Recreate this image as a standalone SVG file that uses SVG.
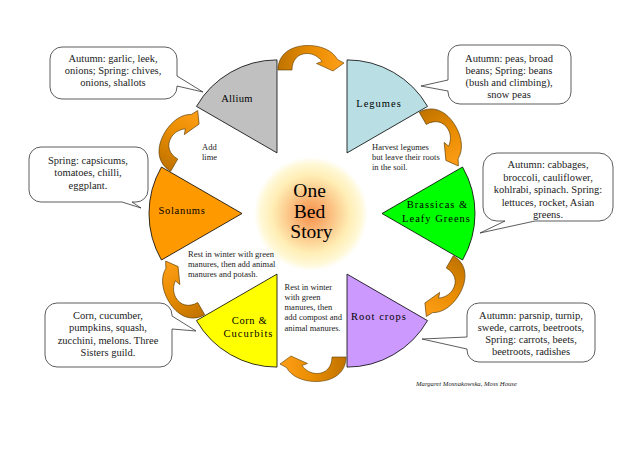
<svg xmlns="http://www.w3.org/2000/svg" xmlns:xlink="http://www.w3.org/1999/xlink" width="640" height="452" viewBox="0 0 640 452">
<defs>
<style>
.sec{stroke:#000;stroke-width:0.8}
.lbl{font-family:"Liberation Serif","DejaVu Serif",serif;font-size:10.5px;fill:#000;text-anchor:middle;letter-spacing:1px}
.co{fill:#fff;stroke:#333;stroke-width:0.8}
.ct{font-family:"Liberation Serif","DejaVu Serif",serif;font-size:10.5px;fill:#222;text-anchor:middle}
.nt{font-family:"Liberation Serif","DejaVu Serif",serif;font-size:8.5px;fill:#222}
.arr{fill:url(#ag);stroke:#5a3a00;stroke-width:0.6}
</style>
<radialGradient id="glow" cx="311" cy="214" r="57" gradientUnits="userSpaceOnUse">
<stop offset="0" stop-color="#f7904a"/>
<stop offset="0.35" stop-color="#fbbf80"/>
<stop offset="0.68" stop-color="#ffeeb5"/>
<stop offset="0.88" stop-color="#fff8d6"/>
<stop offset="1" stop-color="#ffffff"/>
</radialGradient>
<linearGradient id="ag" gradientUnits="userSpaceOnUse" x1="278" y1="60" x2="344" y2="60">
<stop offset="0" stop-color="#c07300"/>
<stop offset="0.5" stop-color="#e88c00"/>
<stop offset="1" stop-color="#ff9f1a"/>
</linearGradient>
<path id="arrow" class="arr" d="M278,70 C278,54 291,45.5 308,45.5 C322,45.5 333,51 337.5,59.5 L344,63 L333,71 L316.5,63.5 L322,61.5 C318.5,56.5 313,53.5 307,53.5 C298,53.5 292,60 292,70 Z"/>
</defs>
<rect width="640" height="452" fill="#fff"/>

<g id="center">
<circle cx="311" cy="214" r="57" fill="url(#glow)"/>
<text font-family="Liberation Serif, DejaVu Serif, serif" font-size="19.5" text-anchor="middle" fill="#000">
<tspan x="312" y="197">One</tspan>
<tspan x="312" y="217.5">Bed</tspan>
<tspan x="311.5" y="238">Story</tspan>
</text>
</g>

<g id="connectors">
<use xlink:href="#arrow" href="#arrow"/>
<use xlink:href="#arrow" href="#arrow" transform="rotate(60 312 213.5)"/>
<use xlink:href="#arrow" href="#arrow" transform="rotate(120 312 213.5)"/>
<use xlink:href="#arrow" href="#arrow" transform="rotate(180 312 213.5)"/>
<use xlink:href="#arrow" href="#arrow" transform="rotate(240 312 213.5)"/>
<use xlink:href="#arrow" href="#arrow" transform="rotate(300 312 213.5)"/>
</g>

<g id="allium">
<path class="sec" fill="#c0c0c0" d="M277,152.9 L277,59.9 A93,93 0 0,0 196.46,106.4 Z"/>
<text class="lbl" x="237" y="101.5" style="letter-spacing:0.3px">Allium</text>
</g>
<g id="legumes">
<path class="sec" fill="#b9dfe4" d="M347,152.9 L347,59.9 A93,93 0 0,1 427.54,106.4 Z"/>
<text class="lbl" x="379" y="106.5">Legumes</text>
</g>
<g id="brassicas">
<path class="sec" fill="#00ff00" d="M382,213.5 L462.54,167 A93,93 0 0,1 462.54,260 Z"/>
<text class="lbl" x="437.5" y="207.5">Brassicas &amp;</text>
<text class="lbl" x="436.5" y="221.5">Leafy Greens</text>
</g>
<g id="rootcrops">
<path class="sec" fill="#cc99ff" d="M347,274.1 L427.54,320.6 A93,93 0 0,1 347,367.1 Z"/>
<text class="lbl" x="379" y="320">Root crops</text>
</g>
<g id="corn">
<path class="sec" fill="#ffff00" d="M277,274.1 L277,367.1 A93,93 0 0,1 196.46,320.6 Z"/>
<text class="lbl" x="249.5" y="324" style="letter-spacing:0.6px">Corn &amp;</text>
<text class="lbl" x="248.5" y="337.3">Cucurbits</text>
</g>
<g id="solanums">
<path class="sec" fill="#ff9900" d="M242,213.5 L161.46,260 A93,93 0 0,1 161.46,167 Z"/>
<text class="lbl" x="182" y="214" style="letter-spacing:0.7px">Solanums</text>
</g>

<g id="note-lime" class="nt">
<text x="202" y="149.5">Add</text>
<text x="202" y="160">lime</text>
</g>
<g id="note-legumes" class="nt">
<text x="372" y="150">Harvest legumes</text>
<text x="372" y="160">but leave their roots</text>
<text x="372" y="169.5">in the soil.</text>
</g>
<g id="note-solanums" class="nt">
<text x="188" y="257">Rest in winter with green</text>
<text x="188" y="267">manures, then add animal</text>
<text x="188" y="277">manures and potash.</text>
</g>
<g id="note-corn" class="nt">
<text x="284.5" y="290">Rest in winter</text>
<text x="284.5" y="300">with green</text>
<text x="284.5" y="310">manures, then</text>
<text x="284.5" y="320">add compost and</text>
<text x="284.5" y="330.5">animal manures.</text>
</g>

<g id="callout-allium">
<path class="co" d="M62,47 H165 A12,12 0 0 1 177,59 V76 L203,92 L177,86 V87 A12,12 0 0 1 165,99 H62 A12,12 0 0 1 50,87 V59 A12,12 0 0 1 62,47 Z"/>
<text class="ct" x="113" y="62">Autumn: garlic, leek,</text>
<text class="ct" x="113" y="74">onions; Spring: chives,</text>
<text class="ct" x="113" y="86">onions, shallots</text>
</g>
<g id="callout-legumes">
<path class="co" d="M460,45 H559 A12,12 0 0 1 571,57 V92 A12,12 0 0 1 559,104 H460 A12,12 0 0 1 448,92 V91 L421,86 L448,80 V57 A12,12 0 0 1 460,45 Z"/>
<text class="ct" x="509" y="62">Autumn: peas, broad</text>
<text class="ct" x="509" y="74">beans; Spring: beans</text>
<text class="ct" x="509" y="86">(bush and climbing),</text>
<text class="ct" x="509" y="98">snow peas</text>
</g>
<g id="callout-solanums">
<path class="co" d="M41,147 H136 A12,12 0 0 1 148,159 V190 A12,12 0 0 1 136,202 H132 L141,208 L122,202 H41 A12,12 0 0 1 29,190 V159 A12,12 0 0 1 41,147 Z"/>
<text class="ct" x="88" y="163.5">Spring: capsicums,</text>
<text class="ct" x="88" y="176">tomatoes, chilli,</text>
<text class="ct" x="88" y="188.5">eggplant.</text>
</g>
<g id="callout-brassicas">
<path class="co" d="M497,153 H599 A14,14 0 0 1 613,167 V207 A14,14 0 0 1 599,221 H535 L480,233 L505,221 H497 A14,14 0 0 1 483,207 V167 A14,14 0 0 1 497,153 Z"/>
<text class="ct" x="548" y="168">Autumn: cabbages,</text>
<text class="ct" x="548" y="180.5">broccoli, cauliflower,</text>
<text class="ct" x="548" y="193">kohlrabi, spinach. Spring:</text>
<text class="ct" x="548" y="205.5">lettuces, rocket, Asian</text>
<text class="ct" x="548" y="218">greens.</text>
</g>
<g id="callout-corn">
<path class="co" d="M57,303 H160 A12,12 0 0 1 172,315 V316 L196,331 L172,329 V355 A12,12 0 0 1 160,367 H57 A12,12 0 0 1 45,355 V315 A12,12 0 0 1 57,303 Z"/>
<text class="ct" x="108" y="318.5">Corn, cucumber,</text>
<text class="ct" x="108" y="331">pumpkins, squash,</text>
<text class="ct" x="108" y="343.5">zucchini, melons. Three</text>
<text class="ct" x="108" y="356">Sisters guild.</text>
</g>
<g id="callout-rootcrops">
<path class="co" d="M479,303 H583 A12,12 0 0 1 595,315 V350 A12,12 0 0 1 583,362 H479 A12,12 0 0 1 467,350 V349 L422,339 L467,337 V315 A12,12 0 0 1 479,303 Z"/>
<text class="ct" x="531" y="318.5">Autumn: parsnip, turnip,</text>
<text class="ct" x="531" y="330.5">swede, carrots, beetroots,</text>
<text class="ct" x="531" y="342.5">Spring: carrots, beets,</text>
<text class="ct" x="531" y="355">beetroots, radishes</text>
</g>

<text id="signature" x="416" y="386" font-family="Liberation Serif, DejaVu Serif, serif" font-size="6.7" font-style="italic" fill="#222">Margaret Mosnakowska, Moss House</text>
</svg>
